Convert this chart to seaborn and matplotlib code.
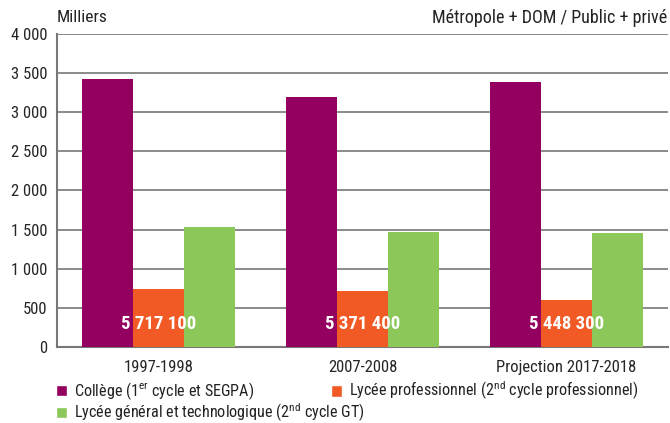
import pandas as pd
import numpy as np
import matplotlib
matplotlib.use("Agg")
import matplotlib.pyplot as plt
import seaborn as sns
from matplotlib.patches import Patch

# Effectifs du second degré (milliers)
periodes = ['1997-1998', '2007-2008', 'Projection 2017-2018']
college = [3430, 3195, 3387]
lycee_pro = [741, 716, 600]
lycee_gt = [1533, 1470, 1457]
totaux = ['5 717 100', '5 371 400', '5 448 300']

niveaux = ['Collège', 'Lycée professionnel', 'Lycée général et technologique']
legende = [r'Collège (1$^{\mathrm{er}}$ cycle et SEGPA)',
           r'Lycée professionnel (2$^{\mathrm{nd}}$ cycle professionnel)',
           r'Lycée général et technologique (2$^{\mathrm{nd}}$ cycle GT)']
couleurs = ['#940060', '#F15A24', '#8CC75A']

df = pd.DataFrame({
    'periode': periodes * 3,
    'niveau': [n for n in niveaux for _ in periodes],
    'effectif': college + lycee_pro + lycee_gt,
})

sns.set_style("white")
plt.rcParams['font.family'] = ['Roboto Condensed', 'Liberation Sans Narrow', 'DejaVu Sans']
plt.rcParams['mathtext.fontset'] = 'custom'
plt.rcParams['mathtext.rm'] = 'Roboto Condensed'
plt.rcParams['text.color'] = '#222222'

fig = plt.figure(figsize=(6.7, 4.23), dpi=100)
ax = fig.add_axes([57 / 670, 76 / 423, 611 / 670, 313 / 423])

sns.barplot(data=df, x='periode', y='effectif', hue='niveau', palette=couleurs,
            width=0.75, saturation=1, legend=False, linewidth=0, ax=ax, zorder=3)

ax.set_xlim(-0.5, 2.5)
ax.set_ylim(0, 4000)
ax.set_yticks(np.arange(0, 4001, 500))
ax.set_yticklabels([f'{v:,}'.replace(',', ' ') for v in range(0, 4001, 500)], fontsize=12)
ax.yaxis.grid(True, color='#777777', linewidth=1.2, zorder=0)
ax.set_xlabel('')
ax.set_ylabel('')
ax.set_xticks([0, 1, 2])
ax.set_xticklabels(periodes, fontsize=12)
ax.tick_params(axis='x', length=0, pad=9)
ax.set_xticks([0.5, 1.5], minor=True)
ax.tick_params(axis='x', which='minor', length=4, width=1, color='#777777', direction='out')
ax.tick_params(axis='y', length=4, width=1.5, color='#444444', direction='in', pad=7)

for s in ['top', 'right']:
    ax.spines[s].set_visible(False)
for s in ['left', 'bottom']:
    ax.spines[s].set_color('#777777')
    ax.spines[s].set_linewidth(1.5)

for i, t in enumerate(totaux):
    ax.text(i, 295, t, ha='center', va='center', color='white',
            fontsize=13.5, fontweight='bold', zorder=5)

fig.text(57 / 670, 1 - 18 / 423, 'Milliers', ha='left', va='center', fontsize=12.5)
fig.text(667 / 670, 1 - 18 / 423, 'Métropole + DOM / Public + privé',
         ha='right', va='center', fontsize=13)

handles = [Patch(facecolor=c) for c in couleurs]
opts = dict(frameon=False, fontsize=11.6, handlelength=0.7, handleheight=0.7,
            handletextpad=0.4, labelspacing=0.0, borderaxespad=0, borderpad=0,
            loc='upper left')
fig.legend([handles[0], handles[2]], [legende[0], legende[2]],
           bbox_to_anchor=(56 / 670, 1 - 380 / 423), **opts)
fig.legend([handles[1]], [legende[1]],
           bbox_to_anchor=(331 / 670, 1 - 380 / 423), **opts)

fig.savefig('out.png', dpi=100)
